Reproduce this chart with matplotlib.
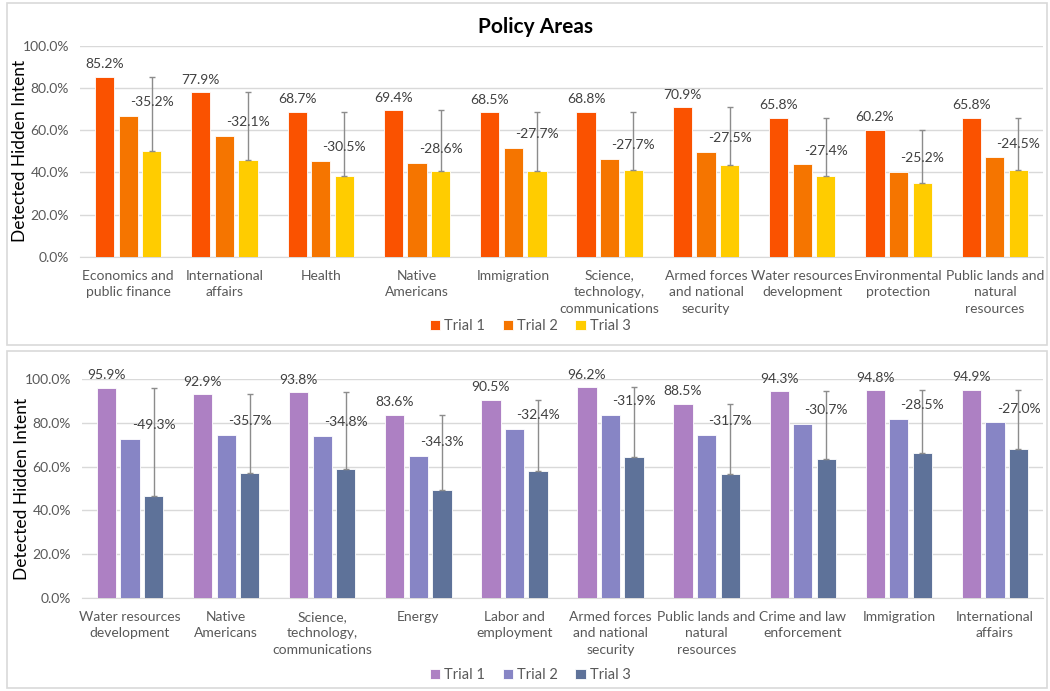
import matplotlib
matplotlib.use("Agg")
import matplotlib.pyplot as plt
from matplotlib.patches import Rectangle
from matplotlib.ticker import PercentFormatter
import numpy as np

plt.rcParams['font.family'] = ['Lato', 'DejaVu Sans']

# top panel data
top_areas = ["Economics and\npublic finance", "International\naffairs", "Health",
             "Native\nAmericans", "Immigration", "Science,\ntechnology,\ncommunications",
             "Armed forces\nand national\nsecurity", "Water resources\ndevelopment",
             "Environmental\nprotection", "Public lands and\nnatural\nresources"]
top_trial1 = [85.2, 77.9, 68.7, 69.4, 68.5, 68.8, 70.9, 65.8, 60.2, 65.8]
top_trial2 = [66.8, 57.2, 45.4, 44.7, 51.5, 46.2, 49.8, 43.8, 40.1, 47.1]
top_diff = [-35.2, -32.1, -30.5, -28.6, -27.7, -27.7, -27.5, -27.4, -25.2, -24.5]

# bottom panel data
bot_areas = ["Water resources\ndevelopment", "Native\nAmericans", "Science,\ntechnology,\ncommunications",
             "Energy", "Labor and\nemployment", "Armed forces\nand national\nsecurity",
             "Public lands and\nnatural\nresources", "Crime and law\nenforcement",
             "Immigration", "International\naffairs"]
bot_trial1 = [95.9, 92.9, 93.8, 83.6, 90.5, 96.2, 88.5, 94.3, 94.8, 94.9]
bot_trial2 = [72.4, 74.4, 74.1, 64.9, 77.0, 83.3, 74.4, 79.5, 81.5, 80.1]
bot_diff = [-49.3, -35.7, -34.8, -34.3, -32.4, -31.9, -31.7, -30.7, -28.5, -27.0]

top_colors = ["#FA5200", "#F57500", "#FFCC00"]
bot_colors = ["#AD80C3", "#8785C5", "#5E7299"]

W, H = 1050, 691
fig = plt.figure(figsize=(W / 100, H / 100), dpi=100)

# panel frames
for (x0, y0, x1, y1) in [(7, 3, 1047, 345), (7, 351, 1047, 688)]:
    fig.patches.append(Rectangle((x0 / W, 1 - y1 / H), (x1 - x0) / W, (y1 - y0) / H,
                                 transform=fig.transFigure, fill=False,
                                 edgecolor="#d9d9d9", linewidth=1.2))

fig.text(0.51, 1 - 27 / H, "Policy Areas", ha="center", va="center",
         fontsize=15, fontweight="bold", color="black")


def draw_panel(ax, areas, t1, t2, diff, colors, legend_y):
    x = np.arange(len(areas))
    t1 = np.array(t1) / 100
    t2 = np.array(t2) / 100
    d = np.array(diff) / 100
    t3 = t1 + d
    w = 0.2
    off = 0.245
    b1 = ax.bar(x - off, t1, w, color=colors[0], edgecolor="white", linewidth=0.6, label="Trial 1", zorder=3)
    b2 = ax.bar(x, t2, w, color=colors[1], edgecolor="white", linewidth=0.6, label="Trial 2", zorder=3)
    b3 = ax.bar(x + off, t3, w, color=colors[2], edgecolor="white", linewidth=0.6, label="Trial 3", zorder=3)
    ax.errorbar(x + off, t3, yerr=[np.zeros_like(d), -d], fmt="none", ecolor="#8c8c8c",
                elinewidth=1, capsize=2.5, zorder=4)
    for i in range(len(x)):
        ax.annotate(f"{t1[i] * 100:.1f}%", (x[i] - off, t1[i]), xytext=(0, 9),
                    textcoords="offset points", ha="center", va="center",
                    fontsize=10, color="#404040")
        ax.annotate(f"{diff[i]:.1f}%", (x[i] + off, t2[i]), xytext=(0, 10),
                    textcoords="offset points", ha="center", va="center",
                    fontsize=10, color="#404040", zorder=5)
    ax.set_xlim(-0.5, len(areas) - 0.5)
    ax.set_ylim(0, 1.0)
    ax.set_yticks(np.arange(0, 1.01, 0.2))
    ax.yaxis.set_major_formatter(PercentFormatter(1.0, decimals=1))
    ax.set_xticks(x)
    ax.set_xticklabels(areas, fontsize=10, color="#595959", linespacing=1.45)
    ax.tick_params(axis="y", labelsize=10, labelcolor="#595959", length=0, pad=8)
    ax.tick_params(axis="x", length=0, pad=9)
    ax.grid(axis="y", color="#d9d9d9", linewidth=1, zorder=0)
    for s in ["top", "right", "left"]:
        ax.spines[s].set_visible(False)
    ax.spines["bottom"].set_color("#d9d9d9")
    ax.set_ylabel("Detected Hidden Intent", fontsize=12.5, color="black")
    ax.yaxis.set_label_coords(-52 / 963, 0.5)
    fig.legend(handles=[b1, b2, b3], loc="center", bbox_to_anchor=(0.505, legend_y),
               ncol=3, frameon=False, fontsize=10.5, labelcolor="#595959",
               handlelength=0.7, handleheight=0.7, handletextpad=0.3, columnspacing=1.2)


ax_top = fig.add_axes([80 / W, 1 - 257 / H, 963 / W, (257 - 45.7) / H])
draw_panel(ax_top, top_areas, top_trial1, top_trial2, top_diff, top_colors, 1 - 326 / H)

ax_bot = fig.add_axes([82 / W, 1 - 598.3 / H, 961 / W, (598.3 - 378.7) / H])
draw_panel(ax_bot, bot_areas, bot_trial1, bot_trial2, bot_diff, bot_colors, 1 - 675 / H)

fig.savefig("out.png", dpi=100)
